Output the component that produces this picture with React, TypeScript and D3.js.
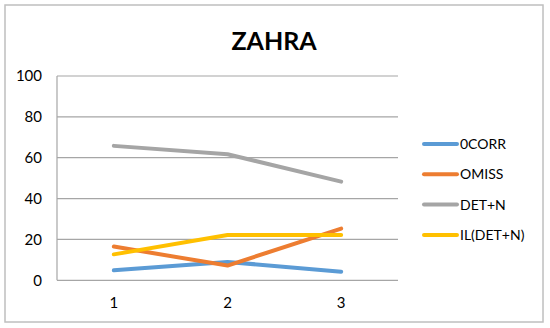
import React from "react";
import * as d3 from "d3";

const categories = ["1", "2", "3"];
const seriesNames = ["0CORR", "OMISS", "DET+N", "IL(DET+N)"];
const corr0 = [4.9, 9, 4.2];
const omiss = [16.5, 7.2, 25.3];
const detN = [65.8, 61.7, 48.3];
const ilDetN = [12.7, 22.2, 22.2];
const yTicks = [0, 20, 40, 60, 80, 100];
const colors = ["#5B9BD5", "#ED7D31", "#A5A5A5", "#FFC000"];

const W = 550;
const H = 328;
const plot = { left: 57, right: 398, top: 76, bottom: 280.3 };
const font = "Lato, 'Open Sans', sans-serif";

export default function App() {
  const x = d3.scaleBand().domain(categories).range([plot.left, plot.right]);
  const y = d3.scaleLinear().domain([0, 100]).range([plot.bottom, plot.top]);
  const allSeries = [corr0, omiss, detN, ilDetN];
  const line = d3
    .line<number>()
    .x((_, i) => (x(categories[i]) as number) + x.bandwidth() / 2)
    .y((d) => y(d));

  return (
    <svg
      width={W}
      height={H}
      style={{ position: "absolute", left: 0, top: 0, display: "block", background: "#fff" }}
    >
      <rect x={5} y={5} width={538} height={317} fill="#fff" stroke="#BFBFBF" strokeWidth={1.5} />
      <text
        x={274}
        y={50}
        textAnchor="middle"
        fontFamily={font}
        fontWeight="bold"
        fontSize={25}
        fill="#000"
      >
        ZAHRA
      </text>
      {yTicks.map((t) => (
        <g key={t}>
          <line x1={plot.left} x2={plot.right} y1={y(t)} y2={y(t)} stroke="#A6A6A6" strokeWidth={1.2} />
          <text x={42} y={y(t)} dy="0.35em" textAnchor="end" fontFamily={font} fontSize={15} fill="#000">
            {t}
          </text>
        </g>
      ))}
      <line x1={plot.left} x2={plot.left} y1={plot.top} y2={plot.bottom} stroke="#A6A6A6" strokeWidth={1.2} />
      {categories.map((c) => (
        <text
          key={c}
          x={(x(c) as number) + x.bandwidth() / 2}
          y={303}
          dy="0.35em"
          textAnchor="middle"
          fontFamily={font}
          fontSize={15}
          fill="#000"
        >
          {c}
        </text>
      ))}
      {allSeries.map((s, i) => (
        <path
          key={seriesNames[i]}
          d={line(s) || ""}
          fill="none"
          stroke={colors[i]}
          strokeWidth={4}
          strokeLinejoin="round"
          strokeLinecap="round"
        />
      ))}
      {seriesNames.map((n, i) => {
        const ly = 144 + i * 30.3;
        return (
          <g key={n}>
            <line x1={424} x2={457} y1={ly} y2={ly} stroke={colors[i]} strokeWidth={4} strokeLinecap="round" />
            <text x={460} y={ly} dy="0.35em" fontFamily={font} fontSize={14} fill="#000">
              {n}
            </text>
          </g>
        );
      })}
    </svg>
  );
}
